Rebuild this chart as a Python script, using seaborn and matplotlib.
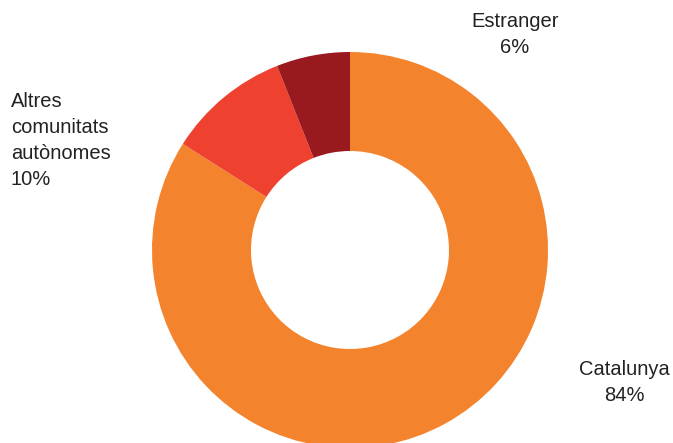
import matplotlib
matplotlib.use("Agg")
import matplotlib.pyplot as plt
import seaborn as sns

categories = ["Catalunya", "Altres comunitats autònomes", "Estranger"]
values = [84, 10, 6]
label_texts = ["Catalunya\n84%", "Altres\ncomunitats\nautònomes\n10%", "Estranger\n6%"]
colors = ["#F4832D", "#EE412F", "#981A1E"]

sns.set_theme(style="white")
plt.rcParams["font.family"] = ["Liberation Sans", "DejaVu Sans"]

W, H = 673, 443
fig = plt.figure(figsize=(W / 100, H / 100), dpi=100)
cx, cy, r = 350, 250, 198
ax = fig.add_axes([(cx - r) / W, (H - cy - r) / H, 2 * r / W, 2 * r / H])
ax.pie(values, colors=colors, startangle=90, counterclock=False, radius=1,
       wedgeprops=dict(width=0.5, linewidth=0))
ax.set_xlim(-1, 1)
ax.set_ylim(-1, 1)
ax.set_aspect("auto")
ax.axis("off")

fs = 14.5
ls = 1.47
fig.text(624 / W, 1 - 382.5 / H, label_texts[0], ha="center", va="center",
         fontsize=fs, linespacing=ls, color="#222222")
fig.text(11 / W, 1 - 140.5 / H, label_texts[1], ha="left", va="center",
         fontsize=fs, linespacing=ls, color="#222222")
fig.text(515 / W, 1 - 34.5 / H, label_texts[2], ha="center", va="center",
         fontsize=fs, linespacing=ls, color="#222222")

fig.savefig("out.png", dpi=100)
